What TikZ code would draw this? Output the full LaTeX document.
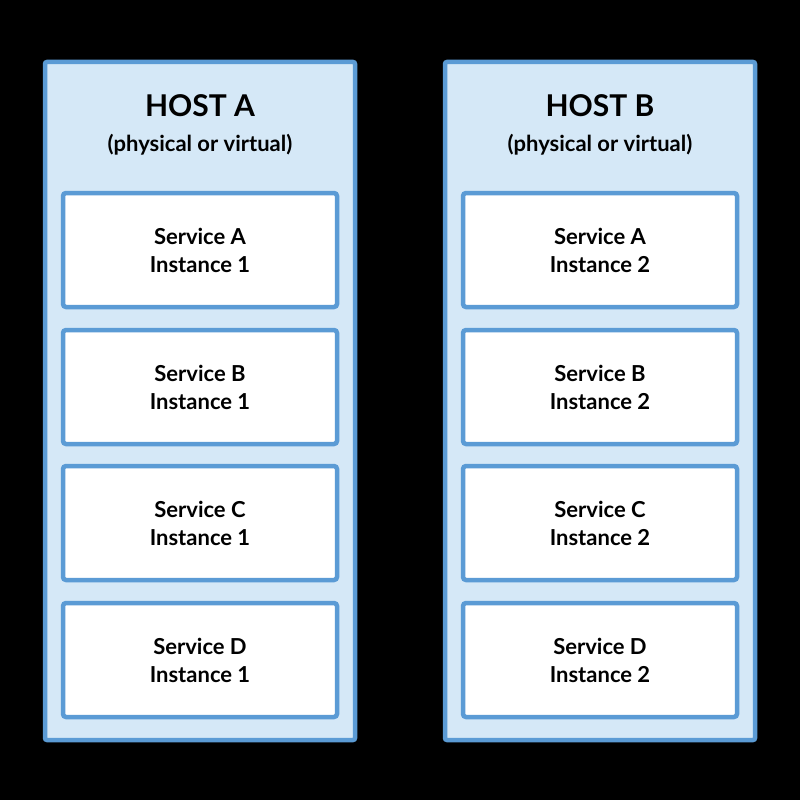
\documentclass[tikz,border=0pt]{standalone}
\usepackage{fontspec}
\setmainfont{Lato}
\definecolor{hostfill}{HTML}{D5E8F7}
\definecolor{edge}{HTML}{5B9BD5}
\begin{document}
\begin{tikzpicture}[x=1pt,y=-1pt,
  host/.style={draw=edge,fill=hostfill,line width=4.5pt,rounded corners=2pt},
  svc/.style={draw=edge,fill=white,line width=4.5pt,rounded corners=3pt,align=center,font=\fontsize{22}{28}\selectfont\bfseries},
  title/.style={font=\fontsize{30}{34}\selectfont\bfseries},
  sub/.style={font=\fontsize{22}{26}\selectfont\bfseries}]
\fill[black] (0,0) rectangle (800,800);
\useasboundingbox (0,0) rectangle (800,800);
\foreach \h/\x/\n in {A/45/1,B/445/2}{
  \draw[host] (\x,62) rectangle (\x+310,740);
  \node[title] (t\h) at (\x+155,106) {HOST \h};
  \node[sub] (s\h) at (\x+155,145) {(physical or virtual)};
  \foreach \s/\y in {A/193,B/330,C/466,D/603}{
    \draw[svc] (\x+18,\y) rectangle (\x+292,\y+114);
    \node[svc,draw=none,fill=none] (\h\s) at (\x+155,\y+57) {Service \s\\Instance \n};
  }
}
\end{tikzpicture}
\end{document}
